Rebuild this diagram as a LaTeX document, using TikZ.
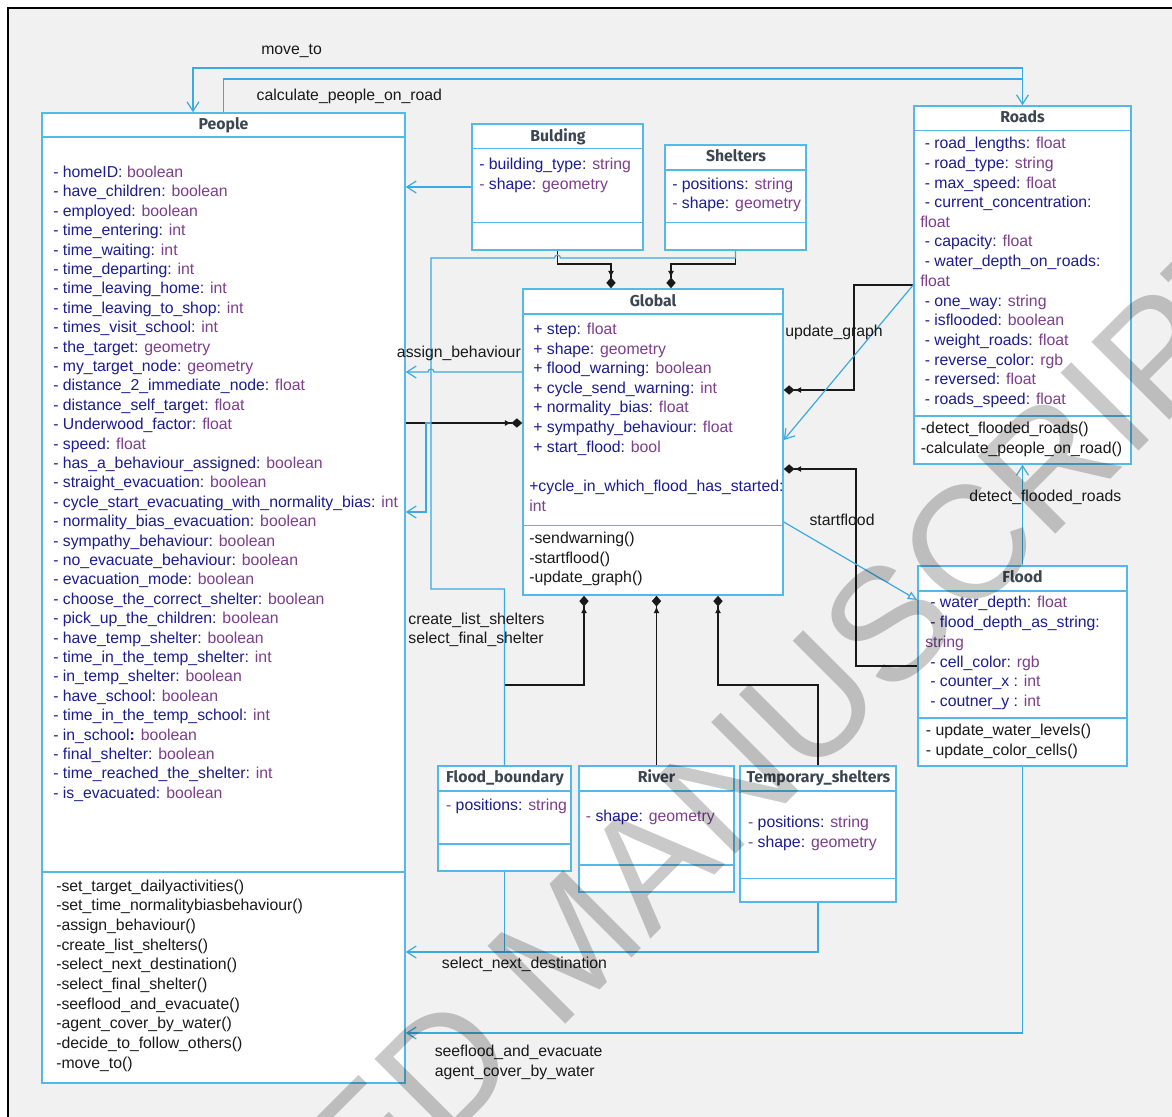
\documentclass[tikz,border=0pt]{standalone}
\usepackage{fontspec}
\setmainfont{Liberation Sans}
\newfontfamily\headfont{Fira Sans}
\usetikzlibrary{arrows.meta,fit,calc}

\definecolor{boxblue}{RGB}{84,185,232}
\definecolor{connblue}{RGB}{58,170,224}
\definecolor{nmcol}{RGB}{28,28,145}
\definecolor{tycol}{RGB}{125,62,140}
\definecolor{hdcol}{RGB}{60,70,82}
\definecolor{bggray}{RGB}{241,241,241}

\newcommand{\ty}[1]{\textcolor{tycol}{#1}}

\tikzset{
  umlbox/.style={draw=boxblue, fill=white, line width=1.2pt, inner sep=0pt},
  sepline/.style={draw=boxblue, line width=1.2pt},
  ttl/.style={anchor=base, inner sep=0pt, text=hdcol,
    font=\headfont\bfseries\fontsize{11.85}{14}\selectfont},
  attr/.style={anchor=base west, inner sep=0pt, text=nmcol,
    font=\fontsize{11.85}{14}\selectfont},
  meth/.style={anchor=base west, inner sep=0pt, text=black!90,
    font=\fontsize{11.85}{14}\selectfont},
  lbl/.style={anchor=base west, inner sep=0pt, text=black!90,
    font=\fontsize{11.85}{14}\selectfont},
  conn/.style={draw=connblue, line width=0.9pt,
    -{Straight Barb[length=7pt,width=9pt]}},
  comp/.style={draw=black!90, line width=0.9pt,
    -{Latex[length=5pt,width=4.5pt]Diamond[length=8pt,width=7pt]}},
}

\begin{document}
\begin{tikzpicture}[x=0.75pt,y=-0.75pt]
  \useasboundingbox (0,0) rectangle (1172,1117);

  % Frame
  \fill[white] (0,0) rectangle (1172,1117);
  \fill[bggray] (8,8) rectangle (1172,1117);
  \draw[line width=1.5pt] (8,1117) -- (8,8) -- (1172,8);

  % Boxes
  \node[umlbox, fit={(42,113) (405,1083)}] (people) {};
  \node[umlbox, fit={(472,124) (643,250)}] (bulding) {};
  \node[umlbox, fit={(665,145) (806,250)}] (shelters) {};
  \node[umlbox, fit={(523,289) (783,595)}] (global) {};
  \node[umlbox, fit={(914,106) (1131,464)}] (roads) {};
  \node[umlbox, fit={(918,566) (1127,766)}] (flood) {};
  \node[umlbox, fit={(438,766) (571,871)}] (fbound) {};
  \node[umlbox, fit={(579,766) (734,892)}] (river) {};
  \node[umlbox, fit={(740,766) (896,902)}] (temps) {};

  % Compartments
  \foreach \b/\ya/\yb in {people/137/871.7, bulding/148.3/222.3, shelters/169.7/222.3,
      global/313.7/525.3, roads/130.3/416, flood/590.7/718, fbound/790.7/844,
      river/790.7/865, temps/790.7/878.3} {
    \draw[sepline] (\b.west |- 0,\ya) -- (\b.east |- 0,\ya);
    \draw[sepline] (\b.west |- 0,\yb) -- (\b.east |- 0,\yb);
  }

  % Titles
  \node[ttl] (peoplet) at (223.5,129.8) {People};
  \node[ttl] (buldingt) at (558,141.2) {Bulding};
  \node[ttl] (shelterst) at (736,161.8) {Shelters};
  \node[ttl] (globalt) at (653,306.2) {Global};
  \node[ttl] (roadst) at (1022.5,122.8) {Roads};
  \node[ttl] (floodt) at (1022.5,582.2) {Flood};
  \node[ttl] (fboundt) at (505,782.8) {Flood\_boundary};
  \node[ttl] (rivert) at (656.5,782.8) {River};
  \node[ttl] (tempst) at (818.5,782.8) {Temporary\_shelters};

  % People
  \foreach \nm/\tp [count=\i from 0] in {homeID:/boolean, have\_children:/boolean,
      employed:/boolean, time\_entering:/int, time\_waiting:/int, time\_departing:/int,
      time\_leaving\_home:/int, time\_leaving\_to\_shop:/int, times\_visit\_school:/int,
      the\_target:/geometry, my\_target\_node:/geometry,
      distance\_2\_immediate\_node:/float, distance\_self\_target:/float,
      Underwood\_factor:/float, speed:/float, has\_a\_behaviour\_assigned:/boolean,
      straight\_evacuation:/boolean, cycle\_start\_evacuating\_with\_normality\_bias:/int,
      normality\_bias\_evacuation:/boolean, sympathy\_behaviour:/boolean,
      no\_evacuate\_behaviour:/boolean, evacuation\_mode:/boolean,
      choose\_the\_correct\_shelter:/boolean, pick\_up\_the\_children:/boolean,
      have\_temp\_shelter:/boolean, time\_in\_the\_temp\_shelter:/int,
      in\_temp\_shelter:/boolean, have\_school:/boolean,
      time\_in\_the\_temp\_school:/int, in\_school\textbf{:}/boolean,
      final\_shelter:/boolean, time\_reached\_the\_shelter:/int, is\_evacuated:/boolean}
    \node[attr] (pa\i) at (53,{177.5+19.4*\i}) {- \nm{} \ty{\tp}};
  \foreach \m [count=\i from 0] in {set\_target\_dailyactivities,
      set\_time\_normalitybiasbehaviour, assign\_behaviour, create\_list\_shelters,
      select\_next\_destination, select\_final\_shelter, seeflood\_and\_evacuate,
      agent\_cover\_by\_water, decide\_to\_follow\_others, move\_to}
    \node[meth] (pm\i) at (56,{891+19.67*\i}) {-\m()};

  % Bulding, Shelters
  \node[attr] (ba0) at (479,169.5) {- building\_type: \ty{string}};
  \node[attr] (ba1) at (479,189) {\ty{-} shape: \ty{geometry}};
  \node[attr] (sa0) at (672,189) {- positions: \ty{string}};
  \node[attr] (sa1) at (672,208.5) {\ty{-} shape: \ty{geometry}};

  % Global
  \foreach \nm/\tp [count=\i from 0] in {step:/float, shape:/geometry,
      flood\_warning:/boolean, cycle\_send\_warning:/int, normality\_bias:/float,
      sympathy\_behaviour:/float, start\_flood:/bool}
    \node[attr] (ga\i) at (533,{334.5+19.6*\i}) {+ \nm{} \ty{\tp}};
  \node[attr] (ga7) at (529,491.7) {+cycle\_in\_which\_flood\_has\_started:};
  \node[attr] (ga8) at (529,511) {\ty{int}};
  \node[meth] (gm0) at (529,543) {-sendwarning()};
  \node[meth] (gm1) at (529,563) {-startflood()};
  \node[meth] (gm2) at (529,582.7) {-update\_graph()};

  % Roads
  \foreach \y/\nm/\tp in {143/road\_lengths:/float, 163/road\_type:/string,
      183/max\_speed:/float, 241.7/capacity:/float, 301/one\_way:/string,
      320/isflooded:/boolean, 340/weight\_roads:/float, 360/reverse\_color:/rgb,
      379/reversed:/float, 399/roads\_speed:/float}
    \node[attr] at (924.5,\y+5) {- \nm{} \ty{\tp}};
  \node[attr] (ra0) at (924.5,207) {- current\_concentration:};
  \node[attr] (ra1) at (920,227) {\ty{float}};
  \node[attr] (ra2) at (924.5,266.3) {- water\_depth\_on\_roads:};
  \node[attr] (ra3) at (920,286) {\ty{float}};
  \node[meth] (rm0) at (920.7,433) {-detect\_flooded\_roads()};
  \node[meth] (rm1) at (920.7,453) {-calculate\_people\_on\_road()};

  % Flood
  \node[attr] (fa0) at (930,607.7) {- water\_depth: \ty{float}};
  \node[attr] (fa1) at (930,627.3) {- flood\_depth\_as\_string:};
  \node[attr] (fa2) at (925,647.7) {\ty{string}};
  \node[attr] (fa3) at (930,667) {- cell\_color: \ty{rgb}};
  \node[attr] (fa4) at (930,686.7) {- counter\_x : \ty{int}};
  \node[attr] (fa5) at (930,706.3) {- coutner\_y : \ty{int}};
  \node[meth] (fm0) at (925.7,735) {- update\_water\_levels()};
  \node[meth] (fm1) at (925.7,755) {- update\_color\_cells()};

  % Flood_boundary, River, Temporary_shelters
  \node[attr] (fba0) at (445.8,810) {\ty{-} positions: \ty{string}};
  \node[attr] (rva0) at (585.6,821) {\ty{-} shape: \ty{geometry}};
  \node[attr] (tsa0) at (747.8,827.3) {\ty{-} positions: \ty{string}};
  \node[attr] (tsa1) at (747.8,847.3) {\ty{-} shape: \ty{geometry}};

  % Arrows (composition into Global)
  \coordinate (pg) at (0,423);
  \draw[comp] (people.east |- pg) -- (global.west |- pg);
  \coordinate (gb) at (611,264);
  \coordinate (gs) at (671,264);
  \draw[comp] (bulding.south) |- (gb) -- (gb |- global.north);
  \draw[comp] (shelters.south) |- (gs) -- (gs |- global.north);
  \coordinate (ug) at (854,285);
  \coordinate (ug2) at (854,390);
  \draw[comp] (roads.west |- ug) -| (ug2) -- (global.east |- ug2);
  \coordinate (sfa) at (0,666);
  \coordinate (sf) at (856,469);
  \draw[comp] (flood.west |- sfa) -| (sf) -- (global.east |- sf);
  \coordinate (fbg) at (584,685);
  \coordinate (tsg) at (718,685);
  \draw[comp] (fbound.north) |- (fbg) -- (fbg |- global.south);
  \draw[comp] (river.north) -- (river.north |- global.south);
  \draw[comp] (temps.north) |- (tsg) -- (tsg |- global.south);

  % Arrows (calls)
  \coordinate (mvto) at (193,68);
  \coordinate (cpr) at (0,79);
  \draw[conn] (roads.north) |- (mvto) -- (mvto |- people.north);
  \draw[conn] (people.north) |- (roads.north |- cpr) -- (roads.north);
  \draw[conn] (bulding.west) -- (people.east |- bulding.west);
  \coordinate (asgn) at (431,372);
  \draw[conn] (global.west |- asgn) -- ($(asgn)+(3,0)$)
    arc[start angle=0, end angle=-180, radius=3] -- (people.east |- asgn);
  \coordinate (shl) at (431,258);
  \coordinate (fbt) at (431,589);
  \draw[conn,-] (shelters.south) |- ($(bulding.south |- shl)+(3,0)$)
    arc[start angle=0, end angle=-180, radius=3] -- (shl) -- (fbt) -| (fbound.north);
  \coordinate (cls) at (426,512);
  \draw[conn] (shl |- pg) -| (cls) -- (people.east |- cls);
  \coordinate (ud) at (0,440);
  \draw[conn] (roads.west |- ug) -- (global.east |- ud);
  \coordinate (gfl) at (0,522);
  \coordinate (fin) at (0,600);
  \draw[conn, -{Triangle[open,length=7pt,width=6pt]}] (global.east |- gfl) -- (flood.west |- fin);
  \draw[conn] (flood.north) -- (roads.south);
  \coordinate (sfe) at (0,1033);
  \draw[conn] (flood.south) |- (people.east |- sfe);
  \coordinate (snd) at (0,952);
  \draw[conn] (temps.south) |- (people.east |- snd);
  \draw[conn,-] (fbound.south) -- (fbound.south |- snd);

  % Labels
  \node[lbl] (l-move) at (261,55) {move\_to};
  \node[lbl] (l-calc) at (256.4,100.7) {calculate\_people\_on\_road};
  \node[lbl] (l-asgn) at (396.7,357.3) {assign\_behaviour};
  \node[lbl] (l-upd) at (785,336.7) {update\_graph};
  \node[lbl] (l-start) at (809.3,525.7) {startflood};
  \node[lbl] (l-detect) at (969,501) {detect\_flooded\_roads};
  \node[lbl] (l-create) at (408.2,624) {create\_list\_shelters};
  \node[lbl] (l-final) at (408.2,643.7) {select\_final\_shelter};
  \node[lbl] (l-next) at (441.6,968.3) {select\_next\_destination};
  \node[lbl] (l-see) at (434.5,1056.7) {seeflood\_and\_evacuate};
  \node[lbl] (l-cover) at (434.5,1076.7) {agent\_cover\_by\_water};

  % Watermark
  \begin{scope}
    \clip (0,0) rectangle (1172,1117);
    \node[anchor=base east, rotate=45, inner sep=0pt, text=black, opacity=0.21,
      font=\fontsize{120}{120}\selectfont] (wm) at (1305,285) {ACCEPTED MANUSCRIPT};
  \end{scope}
\end{tikzpicture}
\end{document}
